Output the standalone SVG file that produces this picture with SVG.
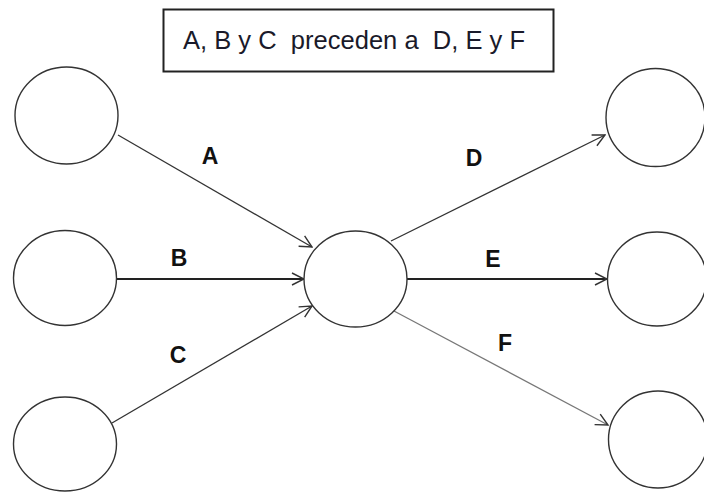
<svg xmlns="http://www.w3.org/2000/svg" width="704" height="493" viewBox="0 0 704 493">
<defs>
<style>
.node{fill:#fff;stroke:#333;stroke-width:1.4}
.edge{fill:none;stroke:#333;stroke-width:1.3}
.thick{stroke:#222;stroke-width:2}
.light{stroke:#777;stroke-width:1.2}
.lbl{font-family:"Liberation Sans",Arial,sans-serif;font-weight:bold;font-size:23px;fill:#111;text-anchor:middle}
.title{font-family:"Liberation Sans",Arial,sans-serif;font-size:25.5px;fill:#1a1a2a;white-space:pre}
</style>
<marker id="arr" viewBox="0 0 14 14" refX="13" refY="7" markerWidth="14" markerHeight="14" markerUnits="userSpaceOnUse" orient="auto">
<path d="M1,1 L13,7 L1,13" fill="none" stroke="#333" stroke-width="1.4"/>
</marker>
</defs>
<rect width="704" height="493" fill="#fff"/>
<g id="title">
<rect x="163.5" y="9.5" width="390" height="62" fill="#fff" stroke="#222" stroke-width="2"/>
<text class="title" x="183" y="49" xml:space="preserve" textLength="342" lengthAdjust="spacingAndGlyphs">A, B y C  preceden a  D, E y F</text>
</g>
<g id="edges">
<line class="edge" x1="118" y1="135" x2="312" y2="247" marker-end="url(#arr)"/>
<line class="edge thick" x1="117" y1="279" x2="304" y2="279" marker-end="url(#arr)"/>
<line class="edge" x1="112" y1="423" x2="312" y2="306" marker-end="url(#arr)"/>
<line class="edge" x1="391" y1="241" x2="605" y2="135" marker-end="url(#arr)"/>
<line class="edge thick" x1="407" y1="279" x2="607" y2="279" marker-end="url(#arr)"/>
<line class="edge light" x1="394" y1="311" x2="608" y2="425" marker-end="url(#arr)"/>
<text class="lbl" x="210" y="164">A</text>
<text class="lbl" x="179" y="266">B</text>
<text class="lbl" x="178" y="363">C</text>
<text class="lbl" x="474" y="166">D</text>
<text class="lbl" x="493" y="267">E</text>
<text class="lbl" x="505" y="351">F</text>
</g>
<g id="n1"><ellipse class="node" cx="66.5" cy="115.5" rx="51.5" ry="48.5"/></g>
<g id="n2"><ellipse class="node" cx="65" cy="278" rx="51.5" ry="47.5"/></g>
<g id="n3"><ellipse class="node" cx="65" cy="444" rx="51.5" ry="47"/></g>
<g id="n4"><ellipse class="node" cx="355.5" cy="279" rx="51.5" ry="48"/></g>
<g id="n5"><ellipse class="node" cx="655.5" cy="117.5" rx="49.5" ry="49"/></g>
<g id="n6"><ellipse class="node" cx="657" cy="279" rx="49.5" ry="47"/></g>
<g id="n7"><ellipse class="node" cx="658" cy="439.5" rx="49.5" ry="48.5"/></g>
</svg>
